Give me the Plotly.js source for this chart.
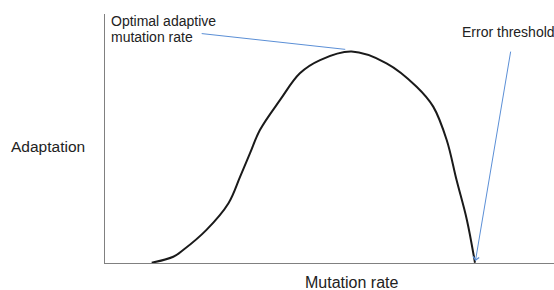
<!DOCTYPE html>
<html>
<head>
<meta charset="utf-8">
<script src="https://cdn.plot.ly/plotly-3.0.1.min.js"></script>
<style>
  html, body { margin: 0; padding: 0; background: #fff; }
  #chart { width: 554px; height: 290px; }
</style>
</head>
<body>
<div id="chart"></div>
<script>
// Mutation rate (arbitrary units, 0-100) and adaptation (arbitrary units, 0-100)
const mutationRate = [10.4, 15.2, 17.4, 22.6, 27.5, 30.1, 32.3, 34.5, 39.0, 43.4, 47.9, 54.9, 62.7, 69.4, 73.1, 76.1, 78.3, 80.6, 82.4];
const adaptation   = [0.1, 2.5, 5.2, 13.3, 24.0, 34.7, 44.1, 53.4, 65.5, 76.2, 81.5, 84.9, 80.2, 70.8, 62.8, 49.4, 33.3, 17.3, 0.1];

const xTitle = 'Mutation rate';
const yTitle = 'Adaptation';
const peakLabelLines = ['Optimal adaptive', 'mutation rate'];
const thresholdLabel = 'Error threshold';

const textColor = '#222222';
const pointerColor = '#5b8fd6';
const font = 'Arial, "Liberation Sans", sans-serif';

const last = mutationRate.length - 1;

const trace = {
  x: mutationRate,
  y: adaptation,
  type: 'scatter',
  mode: 'lines',
  line: { color: '#1a1a1a', width: 2, shape: 'spline', smoothing: 1 },
  hoverinfo: 'skip'
};

const layout = {
  width: 554,
  height: 290,
  margin: { l: 105, r: 0, t: 14, b: 27, pad: 0 },
  paper_bgcolor: '#ffffff',
  plot_bgcolor: '#ffffff',
  showlegend: false,
  font: { family: font, color: textColor, size: 14 },
  xaxis: {
    range: [0, 100],
    showline: true, linecolor: '#808080', linewidth: 1,
    showgrid: false, zeroline: false, showticklabels: false, ticks: '',
    fixedrange: true
  },
  yaxis: {
    range: [0, 100],
    showline: true, linecolor: '#808080', linewidth: 1,
    showgrid: false, zeroline: false, showticklabels: false, ticks: '',
    fixedrange: true
  },
  annotations: [
    // axis titles (horizontal)
    { text: xTitle, xref: 'paper', yref: 'paper', x: 0.548, y: -0.035, xanchor: 'center', yanchor: 'top',
      showarrow: false, font: { size: 16, family: font, color: textColor } },
    { text: yTitle, xref: 'paper', yref: 'y', x: -0.214, y: 46.6, xanchor: 'left', yanchor: 'middle',
      showarrow: false, font: { size: 15.5, family: font, color: textColor } },
    // peak label
    { text: peakLabelLines[0], xref: 'x', yref: 'y', x: 1.0, y: 97.0, xanchor: 'left', yanchor: 'middle',
      showarrow: false, font: { size: 14, family: font, color: textColor } },
    { text: peakLabelLines[1], xref: 'x', yref: 'y', x: 1.0, y: 90.6, xanchor: 'left', yanchor: 'middle',
      showarrow: false, font: { size: 14, family: font, color: textColor } },
    // pointer line to the peak
    { text: '', xref: 'x', yref: 'y', axref: 'x', ayref: 'y',
      x: 53.5, y: 85.8, ax: 21.2, ay: 92.2,
      showarrow: true, arrowhead: 0, arrowwidth: 1, arrowcolor: pointerColor, standoff: 0, startstandoff: 0 },
    // error threshold label
    { text: thresholdLabel, xref: 'x', yref: 'y', x: 79.0, y: 92.8, xanchor: 'left', yanchor: 'middle',
      showarrow: false, font: { size: 14, family: font, color: textColor } },
    // arrow to the error threshold
    { text: '', xref: 'x', yref: 'y', axref: 'x', ayref: 'y',
      x: mutationRate[last] + 0.1, y: 0.8, ax: 90.4, ay: 85.5,
      showarrow: true, arrowhead: 4, arrowsize: 1.2, arrowwidth: 1, arrowcolor: pointerColor, standoff: 0, startstandoff: 0 }
  ]
};

Plotly.newPlot('chart', [trace], layout, { displayModeBar: false, staticPlot: true });
</script>
</body>
</html>
